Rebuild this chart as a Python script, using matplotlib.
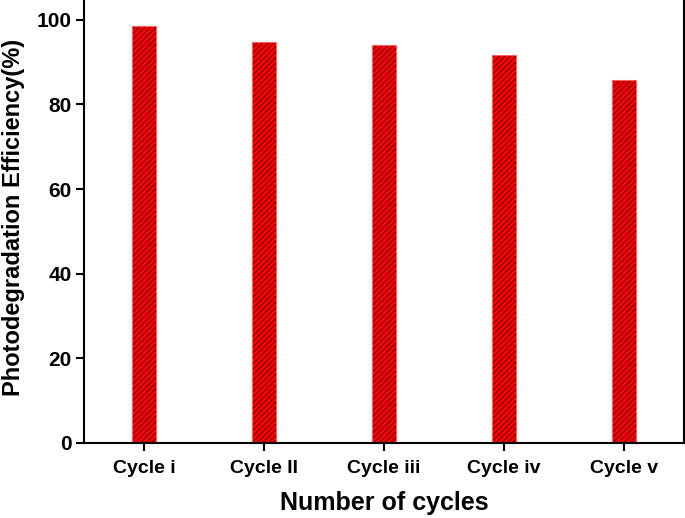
import matplotlib
matplotlib.use('Agg')
import matplotlib.pyplot as plt

# Photodegradation efficiency per reuse cycle
cycles = ['Cycle i', 'Cycle II', 'Cycle iii', 'Cycle iv', 'Cycle v']
efficiency = [98.6, 94.8, 94.0, 91.7, 85.9]

plt.rcParams['font.family'] = ['Liberation Sans', 'DejaVu Sans']
plt.rcParams['font.weight'] = 'bold'
plt.rcParams['hatch.color'] = '#3a0000'
plt.rcParams['hatch.linewidth'] = 0.6

fig = plt.figure(figsize=(6.85, 5.18), dpi=100)
ax = fig.add_axes([0.1226, 0.1448, 0.876, 0.87])

x = range(len(cycles))
ax.bar(x, efficiency, width=0.2, color='#ff0000', hatch='//////', linewidth=0)
ax.bar(x, efficiency, width=0.2, fill=False, edgecolor='#ff6060', linewidth=0.8)

ax.set_xlim(-0.5, 4.5)
ax.set_ylim(0, 106.5)
ax.set_yticks([0, 20, 40, 60, 80, 100])
ax.set_xticks(list(x))
ax.set_xticklabels(cycles)

for s in ax.spines.values():
    s.set_linewidth(1.5)
ax.tick_params(axis='both', width=1.5, length=6, direction='out')
ax.tick_params(axis='y', labelsize=15, pad=3)
ax.tick_params(axis='x', labelsize=14, pad=6)

ax.set_xlabel('Number of cycles', fontsize=18, fontweight='bold', labelpad=10)
ax.set_ylabel('Photodegradation Efficiency(%)', fontsize=17, fontweight='bold', labelpad=8)

fig.savefig('out.png', dpi=100)
